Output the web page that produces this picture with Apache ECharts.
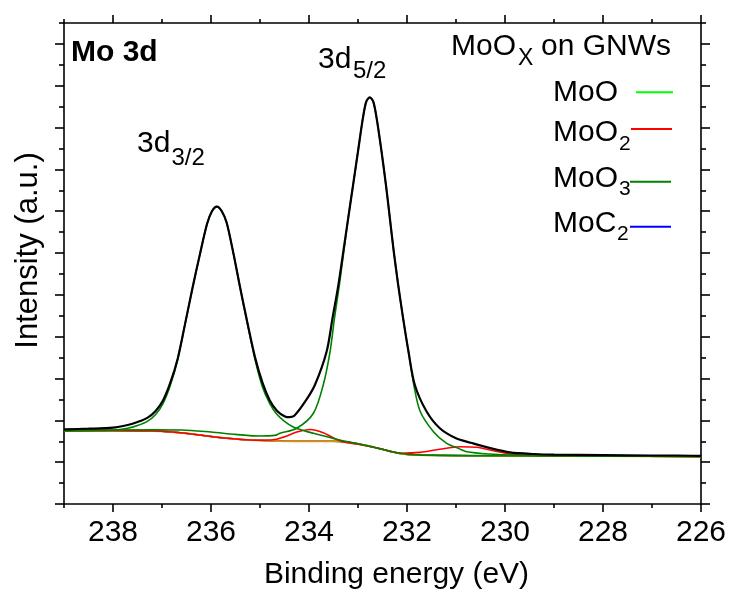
<!DOCTYPE html>
<html>
<head>
<meta charset="utf-8">
<script src="https://cdn.jsdelivr.net/npm/echarts@6/dist/echarts.min.js"></script>
<style>html,body{margin:0;padding:0;background:#fff}#c{width:732px;height:599px}</style>
</head>
<body>
<div id="c"></div>
<script>
// ---- data (binding energy in eV, intensity in arbitrary units) ----
const xMajorTicks = [226, 228, 230, 232, 234, 236, 238];
const xMinorTicks = [227, 229, 231, 233, 235, 237, 239];
const yMajorTicks = [0, 2, 4, 6, 8, 10, 12, 14, 16, 18, 20, 22];
const yMinorTicks = [1, 3, 5, 7, 9, 11, 13, 15, 17, 19, 21, 23];

// measured spectrum
const dataX = [239.0, 238.5, 238.0, 237.7, 237.5, 237.3, 237.13, 236.98, 236.83, 236.68, 236.53, 236.38, 236.23, 236.08, 235.98, 235.88, 235.78, 235.68, 235.54, 235.41, 235.26, 235.1, 234.95, 234.8, 234.65, 234.5, 234.4, 234.3, 234.08, 233.88, 233.64, 233.52, 233.4, 233.3, 233.2, 233.1, 233.0, 232.9, 232.83, 232.76, 232.69, 232.62, 232.52, 232.43, 232.35, 232.27, 232.18, 232.08, 231.97, 231.84, 231.6, 231.33, 231.0, 230.7, 230.3, 229.9, 229.4, 229.0, 228.0, 227.0, 226.5, 226.0];
const dataY = [3.57, 3.60, 3.65, 3.78, 3.92, 4.12, 4.45, 4.95, 5.80, 6.95, 8.60, 10.30, 11.90, 13.40, 14.00, 14.22, 14.00, 13.45, 11.95, 10.40, 8.70, 7.00, 5.80, 4.95, 4.45, 4.20, 4.15, 4.22, 4.89, 5.69, 7.29, 8.89, 10.48, 12.07, 13.67, 15.26, 16.86, 18.45, 19.25, 19.44, 19.25, 18.45, 16.86, 15.26, 13.67, 12.07, 10.48, 8.89, 7.29, 5.69, 4.42, 3.62, 3.14, 2.93, 2.67, 2.47, 2.39, 2.36, 2.34, 2.32, 2.32, 2.30];

// Shirley background (also MoO and MoC2 components, zero amplitude)
const bgX = [239.0, 238.0, 237.2, 236.8, 236.4, 236.0, 235.6, 235.2, 234.6, 234.0, 233.5, 233.2, 232.8, 232.4, 232.1, 231.8, 230.0, 228.0, 226.0];
const bgY = [3.51, 3.51, 3.49, 3.44, 3.35, 3.23, 3.13, 3.06, 3.01, 3.00, 3.00, 2.95, 2.79, 2.55, 2.40, 2.34, 2.30, 2.29, 2.27];

// MoO3 3d3/2 component
const moo3aX = [239.0, 238.0, 237.7, 237.5, 237.3, 237.13, 236.98, 236.83, 236.68, 236.53, 236.38, 236.23, 236.08, 235.98, 235.88, 235.78, 235.68, 235.54, 235.41, 235.26, 235.1, 234.95, 234.8, 234.66, 234.5, 234.32, 234.1, 233.91, 233.44, 233.0, 232.6, 232.2, 231.8, 230.0, 228.0, 226.0];
const moo3aY = [3.51, 3.53, 3.62, 3.75, 3.95, 4.28, 4.80, 5.68, 6.90, 8.60, 10.30, 11.90, 13.40, 14.00, 14.22, 14.00, 13.45, 11.95, 10.40, 8.65, 6.90, 5.60, 4.80, 4.30, 3.95, 3.68, 3.50, 3.38, 3.10, 2.88, 2.67, 2.45, 2.35, 2.31, 2.29, 2.27];

// MoO3 3d5/2 component
const moo3bX = [239.0, 237.2, 236.6, 236.0, 235.5, 235.0, 234.7, 234.59, 234.25, 233.91, 233.71, 233.57, 233.48, 233.38, 233.29, 233.2, 233.1, 233.0, 232.9, 232.83, 232.76, 232.69, 232.62, 232.52, 232.43, 232.35, 232.27, 232.18, 232.08, 231.97, 231.86, 231.73, 231.46, 231.19, 230.95, 230.78, 230.31, 229.8, 228.0, 226.0];
const moo3bY = [3.51, 3.55, 3.54, 3.44, 3.33, 3.25, 3.28, 3.38, 3.62, 4.34, 5.69, 7.29, 8.89, 10.48, 12.07, 13.67, 15.26, 16.86, 18.45, 19.25, 19.44, 19.25, 18.45, 16.86, 15.26, 13.67, 12.07, 10.48, 8.89, 7.29, 5.69, 4.42, 3.46, 2.90, 2.66, 2.50, 2.39, 2.34, 2.30, 2.27];

// MoO2 doublet
const moo2X = [239.0, 238.0, 237.2, 236.8, 236.4, 236.0, 235.6, 235.2, 234.9, 234.66, 234.45, 234.25, 233.98, 233.71, 233.5, 233.3, 233.0, 232.6, 232.14, 231.73, 231.33, 230.92, 230.58, 230.24, 229.9, 229.4, 228.0, 226.0];
const moo2Y = [3.51, 3.51, 3.49, 3.44, 3.35, 3.23, 3.13, 3.06, 3.05, 3.10, 3.25, 3.44, 3.56, 3.41, 3.16, 2.97, 2.86, 2.68, 2.43, 2.47, 2.62, 2.74, 2.71, 2.55, 2.39, 2.32, 2.29, 2.27];

// ---- chart ----
const FONT = "'Liberation Sans', Arial, Helvetica, sans-serif";
const pairs = (xs, ys) => xs.map((x, i) => [x, ys[i]]);
const chart = echarts.init(document.getElementById('c'), null, {renderer: 'canvas'});

const axisCommonX = {type: 'value', min: 226, max: 239, inverse: true, splitLine: {show: false}};
const axisCommonY = {type: 'value', min: 0, max: 23, splitLine: {show: false}};
const lineSt = {color: '#000', width: 1.6};

const lineSeries = (name, xs, ys, color, width) => ({
  name, type: 'line', xAxisIndex: 0, yAxisIndex: 0,
  data: pairs(xs, ys), showSymbol: false, symbol: 'none',
  smooth: 0.3,
  lineStyle: {color, width}, itemStyle: {color}, emphasis: {disabled: true}
});

const txt = (x, y, text, font) => ({type: 'text', x, y, style: {text, font, fill: '#000', align: 'left', verticalAlign: 'middle', textAlign: 'left', textVerticalAlign: 'middle'}});

chart.setOption({
  animation: false,
  backgroundColor: '#fff',
  grid: [
    {left: 64, top: 23, right: 31, bottom: 95},
    {left: 64, top: 23, right: 31, bottom: 95}
  ],
  xAxis: [
    Object.assign({}, axisCommonX, {gridIndex: 0, position: 'bottom', interval: 2,
      axisLine: {onZero: false, lineStyle: lineSt},
      axisTick: {customValues: xMajorTicks, length: 8, lineStyle: lineSt},
      axisLabel: {customValues: xMajorTicks, margin: 14, fontSize: 30, color: '#000', fontFamily: FONT},
      name: 'Binding energy (eV)', nameLocation: 'middle', nameGap: 56,
      nameTextStyle: {fontSize: 30, color: '#000', fontFamily: FONT, padding: [0, 0, 0, 28]}}),
    Object.assign({}, axisCommonX, {gridIndex: 0, position: 'top', interval: 2,
      axisLine: {onZero: false, lineStyle: lineSt},
      axisTick: {customValues: xMajorTicks, length: 8, lineStyle: lineSt},
      axisLabel: {show: false}}),
    Object.assign({}, axisCommonX, {gridIndex: 1, position: 'bottom', interval: 1,
      axisLine: {show: false, onZero: false},
      axisTick: {customValues: xMinorTicks, length: 4, lineStyle: lineSt},
      axisLabel: {show: false}}),
    Object.assign({}, axisCommonX, {gridIndex: 1, position: 'top', interval: 1,
      axisLine: {show: false, onZero: false},
      axisTick: {customValues: xMinorTicks, length: 4, lineStyle: lineSt},
      axisLabel: {show: false}})
  ],
  yAxis: [
    Object.assign({}, axisCommonY, {gridIndex: 0, position: 'left', interval: 2,
      axisLine: {show: true, onZero: false, lineStyle: lineSt},
      axisTick: {show: true, customValues: yMajorTicks, length: 9, lineStyle: lineSt},
      axisLabel: {show: false},
      name: 'Intensity (a.u.)', nameLocation: 'middle', nameGap: 20, nameRotate: 90,
      nameTextStyle: {fontSize: 31, color: '#000', fontFamily: FONT, padding: [0, 0, 0, 26]}}),
    Object.assign({}, axisCommonY, {gridIndex: 0, position: 'right', interval: 2,
      axisLine: {show: true, onZero: false, lineStyle: lineSt},
      axisTick: {show: true, customValues: yMajorTicks, length: 9, lineStyle: lineSt},
      axisLabel: {show: false}}),
    Object.assign({}, axisCommonY, {gridIndex: 1, position: 'left', interval: 1,
      axisLine: {show: false, onZero: false},
      axisTick: {show: true, customValues: yMinorTicks, length: 5, lineStyle: lineSt},
      axisLabel: {show: false}}),
    Object.assign({}, axisCommonY, {gridIndex: 1, position: 'right', interval: 1,
      axisLine: {show: false, onZero: false},
      axisTick: {show: true, customValues: yMinorTicks, length: 5, lineStyle: lineSt},
      axisLabel: {show: false}})
  ],
  series: [
    lineSeries('MoO', bgX, bgY, '#00ff00', 1.5),
    lineSeries('MoC2', bgX, bgY, '#0000ff', 1.5),
    lineSeries('Background', bgX, bgY, '#e0900f', 1.8),
    lineSeries('MoO2', moo2X, moo2Y, '#ff0000', 1.6),
    lineSeries('MoO3 3d5/2', moo3bX, moo3bY, '#008000', 1.6),
    lineSeries('MoO3 3d3/2', moo3aX, moo3aY, '#008000', 1.6),
    lineSeries('Data', dataX, dataY, '#000000', 2.2)
  ],
  graphic: [
    txt(71, 52.5, 'Mo 3d', 'bold 30px ' + FONT),
    txt(137, 144.2, '3d', '30px ' + FONT),
    txt(171.5, 158.5, '3/2', '24px ' + FONT),
    txt(318, 59.5, '3d', '30px ' + FONT),
    txt(353, 71, '5/2', '24px ' + FONT),
    txt(451, 46.5, 'MoO', '30px ' + FONT),
    txt(518, 58.5, 'X', '23px ' + FONT),
    txt(541, 46.5, 'on GNWs', '30px ' + FONT),
    txt(553, 92.5, 'MoO', '30px ' + FONT),
    txt(553, 132.5, 'MoO', '30px ' + FONT),
    txt(619, 144, '2', '21px ' + FONT),
    txt(553, 179.2, 'MoO', '30px ' + FONT),
    txt(619, 189, '3', '21px ' + FONT),
    txt(553, 224.2, 'MoC', '30px ' + FONT),
    txt(617, 234.5, '2', '21px ' + FONT),
    {type: 'line', shape: {x1: 636, y1: 92.3, x2: 673, y2: 92.3}, style: {stroke: '#00ff00', lineWidth: 2}},
    {type: 'line', shape: {x1: 631, y1: 129, x2: 672, y2: 129}, style: {stroke: '#ff0000', lineWidth: 2}},
    {type: 'line', shape: {x1: 630, y1: 181.7, x2: 671, y2: 181.7}, style: {stroke: '#008000', lineWidth: 2}},
    {type: 'line', shape: {x1: 630, y1: 226.7, x2: 671, y2: 226.7}, style: {stroke: '#0000ff', lineWidth: 2}}
  ]
});
</script>
</body>
</html>
